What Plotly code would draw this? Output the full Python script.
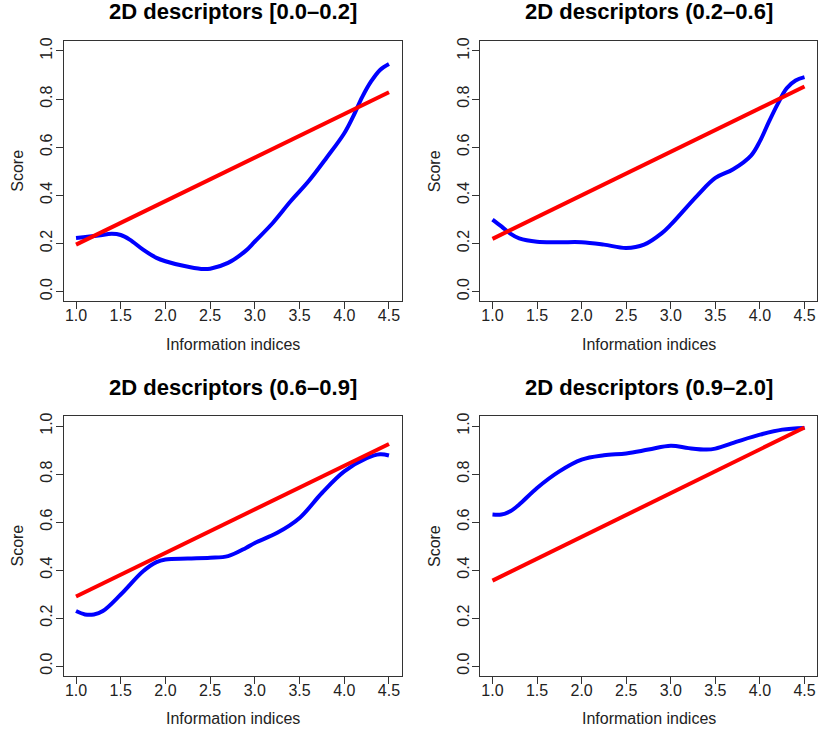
import plotly.graph_objects as go

titles = ["2D descriptors [0.0\u20130.2]", "2D descriptors (0.2\u20130.6]",
          "2D descriptors (0.6\u20130.9]", "2D descriptors (0.9\u20132.0]"]

red_x = [1.0, 4.5]
red_y1 = [0.195, 0.828]
red_y2 = [0.219, 0.852]
red_y3 = [0.290, 0.925]
red_y4 = [0.356, 0.994]

blue_x1 = [1.0, 1.25, 1.4, 1.5, 1.6, 1.75, 1.9, 2.0, 2.2, 2.4, 2.5, 2.7, 2.9, 3.0, 3.2, 3.4, 3.6, 3.8, 4.0, 4.1, 4.2, 4.3, 4.4, 4.5]
blue_y1 = [0.223, 0.233, 0.240, 0.235, 0.216, 0.174, 0.140, 0.126, 0.107, 0.094, 0.095, 0.119, 0.170, 0.208, 0.285, 0.375, 0.458, 0.555, 0.658, 0.728, 0.808, 0.873, 0.921, 0.946]

blue_x2 = [1.0, 1.1, 1.2, 1.3, 1.5, 1.75, 2.0, 2.25, 2.5, 2.7, 2.9, 3.0, 3.3, 3.5, 3.7, 3.9, 4.0, 4.1, 4.2, 4.3, 4.4, 4.5]
blue_y2 = [0.299, 0.271, 0.241, 0.221, 0.207, 0.205, 0.205, 0.195, 0.181, 0.195, 0.243, 0.278, 0.400, 0.472, 0.508, 0.565, 0.625, 0.705, 0.780, 0.845, 0.877, 0.891]

blue_x3 = [1.0, 1.1, 1.2, 1.3, 1.5, 1.75, 1.9, 2.0, 2.25, 2.5, 2.7, 2.9, 3.0, 3.25, 3.5, 3.75, 4.0, 4.25, 4.4, 4.5]
blue_y3 = [0.229, 0.215, 0.215, 0.229, 0.298, 0.395, 0.433, 0.444, 0.448, 0.451, 0.458, 0.492, 0.513, 0.555, 0.617, 0.721, 0.811, 0.866, 0.882, 0.877]

blue_x4 = [1.0, 1.1, 1.2, 1.3, 1.5, 1.75, 2.0, 2.25, 2.5, 2.75, 3.0, 3.2, 3.4, 3.5, 3.75, 4.0, 4.25, 4.5]
blue_y4 = [0.631, 0.631, 0.645, 0.673, 0.742, 0.811, 0.860, 0.878, 0.886, 0.902, 0.918, 0.908, 0.902, 0.906, 0.936, 0.964, 0.985, 0.992]

x_ticks = [1.0, 1.5, 2.0, 2.5, 3.0, 3.5, 4.0, 4.5]
x_ticklabels = ["1.0", "1.5", "2.0", "2.5", "3.0", "3.5", "4.0", "4.5"]
y_ticks = [0.0, 0.2, 0.4, 0.6, 0.8, 1.0]
y_ticklabels = ["0.0", "0.2", "0.4", "0.6", "0.8", "1.0"]

blues = [(blue_x1, blue_y1), (blue_x2, blue_y2), (blue_x3, blue_y3), (blue_x4, blue_y4)]
reds = [red_y1, red_y2, red_y3, red_y4]

W, H = 818, 734
# pixel boxes (left, right, top, bottom)
boxes = [(63.5, 401.5, 37.5, 298.8), (480.0, 817.0, 37.5, 298.8),
         (63.5, 401.5, 414.7, 675.3), (480.0, 817.0, 414.7, 675.3)]

FONT = "Liberation Sans, Arial, Helvetica, sans-serif"
fig = go.Figure()
layout = dict(width=W, height=H, margin=dict(l=0, r=0, t=0, b=0),
              plot_bgcolor="white", paper_bgcolor="white", showlegend=False,
              font=dict(family=FONT, size=16, color="black"))
annotations = []
for i in range(4):
    l, r, t, b = boxes[i]
    xa = "x" if i == 0 else f"x{i+1}"
    ya = "y" if i == 0 else f"y{i+1}"
    bx, by = blues[i]
    fig.add_trace(go.Scatter(x=bx, y=by, mode="lines", line=dict(color="#0000FF", width=4, shape="spline", smoothing=1.0),
                             xaxis=xa, yaxis=ya))
    fig.add_trace(go.Scatter(x=red_x, y=reds[i], mode="lines", line=dict(color="#FF0000", width=4),
                             xaxis=xa, yaxis=ya))
    axis_common = dict(showline=True, linecolor="#333333", linewidth=1, mirror=True,
                       ticks="outside", ticklen=7, tickcolor="#333333", tickwidth=1,
                       showgrid=False, zeroline=False, tickfont=dict(family=FONT, size=16, color="#222222"))
    layout["xaxis" if i == 0 else f"xaxis{i+1}"] = dict(
        domain=[l / W, r / W], range=[0.86, 4.64], tickmode="array", tickvals=x_ticks, ticktext=x_ticklabels,
        anchor=ya, ticklabelstandoff=-7, **axis_common)
    layout["yaxis" if i == 0 else f"yaxis{i+1}"] = dict(
        domain=[1 - b / H, 1 - t / H], range=[-0.04, 1.04], tickmode="array", tickvals=y_ticks, ticktext=y_ticklabels,
        tickangle=-90, anchor=xa, ticklabelstandoff=-3, **axis_common)
    cx = (l + r) / 2
    annotations.append(dict(text=f"<b>{titles[i]}</b>", x=cx / W, y=1 - (t - 29.5) / H, xref="paper", yref="paper",
                            showarrow=False, xanchor="center", yanchor="middle",
                            font=dict(family=FONT, size=22, color="black")))
    annotations.append(dict(text="Information indices", x=cx / W, y=1 - (b + 43.5) / H, xref="paper", yref="paper",
                            showarrow=False, xanchor="center", yanchor="middle",
                            font=dict(family=FONT, size=16, color="#222222")))
    annotations.append(dict(text="Score", x=(l - 46) / W, y=1 - ((t + b) / 2) / H, xref="paper", yref="paper",
                            showarrow=False, xanchor="center", yanchor="middle", textangle=-90,
                            font=dict(family=FONT, size=16, color="#222222")))
layout["annotations"] = annotations
fig.update_layout(**layout)
fig.write_html("out.html")
